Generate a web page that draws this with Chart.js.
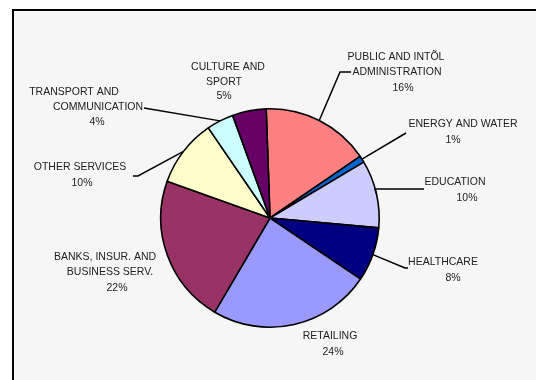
<!DOCTYPE html>
<html>
<head>
<meta charset="utf-8">
<script src="https://cdn.jsdelivr.net/npm/chart.js@4"></script>
<style>
html, body { margin: 0; padding: 0; background: #fff; }
#wrap { width: 536px; height: 380px; }
</style>
</head>
<body>
<div id="wrap"><canvas id="pieChart" width="536" height="380"></canvas></div>
<script>
// sectors, clockwise from 12 o'clock
const sectors = ['PUBLIC AND INTÕL ADMINISTRATION', 'ENERGY AND WATER', 'EDUCATION', 'HEALTHCARE',
  'RETAILING', 'BANKS, INSUR. AND BUSINESS SERV.', 'OTHER SERVICES', 'TRANSPORT AND COMMUNICATION', 'CULTURE AND SPORT'];
const shares = [16, 1, 10, 8, 24, 22, 10, 4, 5]; // percent
const sectorColors = ['#FF8080', '#0066CC', '#CCCCFF', '#000080', '#9999FF', '#993366', '#FFFFCC', '#CCFFFF', '#660066'];
// how the label text is broken in the picture
const labelText = [
  ['PUBLIC AND INTÕL', 'ADMINISTRATION'],
  ['ENERGY AND WATER'],
  ['EDUCATION'],
  ['HEALTHCARE'],
  ['RETAILING'],
  ['BANKS, INSUR. AND', 'BUSINESS SERV.'],
  ['OTHER SERVICES'],
  ['TRANSPORT AND', 'COMMUNICATION'],
  ['CULTURE AND', 'SPORT']
];

// where each label sits (line centres) and where its leader line goes, not data
const labelLayout = [
  { x: [396, 397, 403], y: [57, 72, 88], leader: [[340, 72], [351, 72]] },
  { x: [463, 453], y: [124, 140], leader: [[406, 133]] },
  { x: [455, 467], y: [182, 198], leader: [[375, 189], [424, 189]] },
  { x: [443, 453], y: [262, 278], leader: [[405, 268], [408, 268]] },
  { x: [330, 333], y: [336, 352], leader: null },
  { x: [105, 110, 117], y: [257, 272, 288], leader: null },
  { x: [80, 82], y: [167, 183], leader: [[138, 176], [133, 176]] },
  { x: [74, 98, 97], y: [92, 107, 122], leader: [[144, 108]] },
  { x: [228, 224, 224], y: [67, 82, 96], leader: null }
];

const framePlugin = {
  id: 'frame',
  beforeDraw(chart) {
    const ctx = chart.ctx;
    ctx.save();
    ctx.fillStyle = '#ffffff';
    ctx.fillRect(0, 0, chart.width, chart.height);
    ctx.fillStyle = '#f6f6f6';
    ctx.fillRect(13, 10, 540, 380);
    ctx.strokeStyle = '#000';
    ctx.lineWidth = 2;
    ctx.strokeRect(13, 10, 540, 380);
    ctx.restore();
  }
};

const labelPlugin = {
  id: 'sectorLabels',
  afterDatasetsDraw(chart) {
    const ctx = chart.ctx;
    const meta = chart.getDatasetMeta(0);
    ctx.save();
    ctx.strokeStyle = '#000';
    ctx.lineWidth = 1.5;
    meta.data.forEach((arc, i) => {
      const lay = labelLayout[i];
      if (lay.leader) {
        const p = arc.getProps(['x', 'y', 'startAngle', 'endAngle', 'outerRadius'], true);
        const mid = (p.startAngle + p.endAngle) / 2;
        ctx.beginPath();
        ctx.moveTo(p.x + Math.cos(mid) * p.outerRadius, p.y + Math.sin(mid) * p.outerRadius);
        lay.leader.forEach(pt => ctx.lineTo(pt[0], pt[1]));
        ctx.stroke();
      }
      const lines = labelText[i].concat([shares[i] + '%']);
      ctx.fillStyle = '#222';
      ctx.font = '10.5px "Liberation Sans", Arial, sans-serif';
      ctx.textAlign = 'center';
      ctx.textBaseline = 'middle';
      lines.forEach((t, j) => ctx.fillText(t, lay.x[j], lay.y[j]));
    });
    ctx.restore();
  }
};

new Chart(document.getElementById('pieChart'), {
  type: 'pie',
  data: {
    labels: sectors,
    datasets: [{
      data: shares,
      backgroundColor: sectorColors,
      borderColor: '#000',
      borderWidth: 1.6
    }]
  },
  options: {
    responsive: false,
    animation: false,
    rotation: -2,
    layout: { padding: { left: 160, right: 156, top: 108, bottom: 52 } },
    plugins: {
      legend: { display: false },
      tooltip: { enabled: false }
    }
  },
  plugins: [framePlugin, labelPlugin]
});
</script>
</body>
</html>
